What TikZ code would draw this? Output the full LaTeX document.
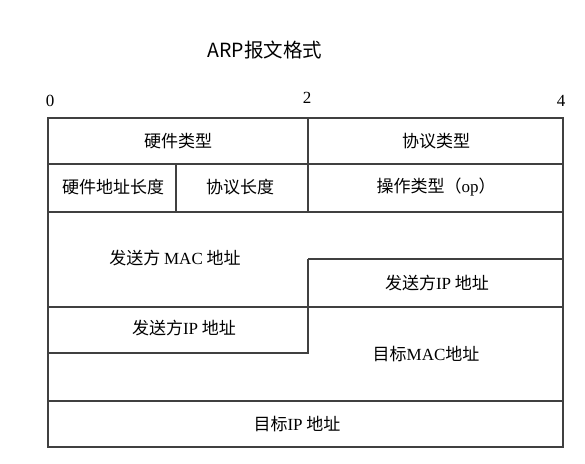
\documentclass[tikz,border=0pt]{standalone}
\usepackage{fontspec}
\setmainfont{Liberation Serif}
\newfontfamily\cjk{Noto Sans CJK SC}
\begin{document}
\begin{tikzpicture}[x=1pt,y=-1pt,
  grid/.style={draw=black!75,line width=1.1pt},
  cell/.style={font=\fontsize{17}{19}\selectfont\cjk, inner sep=0pt, anchor=center},
  num/.style={font=\fontsize{17}{19}\selectfont, inner sep=0pt, anchor=center}]
\useasboundingbox (0,0) rectangle (585,463);
% title
\node[font=\fontsize{19.5}{21}\selectfont\cjk, inner sep=0pt] (title) at (265,50) {ARP报文格式};
% scale
\node[num] (n0) at (50,101) {0};
\node[num] (n2) at (307,98) {2};
\node[num] (n4) at (561,101) {4};
% frame and lines
\draw[grid] (48,118) rectangle (563,447);
\draw[grid] (48,164) -- (563,164);
\draw[grid] (48,212) -- (563,212);
\draw[grid] (308,118) -- (308,212);
\draw[grid] (176,164) -- (176,212);
\draw[grid] (308,259) -- (563,259);
\draw[grid] (48,307) -- (563,307);
\draw[grid] (48,353) -- (308,353) -- (308,259);
\draw[grid] (48,401) -- (563,401);
% texts
\node[cell] (hwtype) at (178,141) {硬件类型};
\node[cell] (prtype) at (436,141) {协议类型};
\node[cell] (hwlen) at (113,187) {硬件地址长度};
\node[cell] (prlen) at (240,187) {协议长度};
\node[cell] (op) at (436,187) {操作类型（{\rmfamily op}）};
\node[cell] (smac) at (175,258) {发送方 {\rmfamily MAC} 地址};
\node[cell] (sip1) at (437,283) {发送方{\rmfamily IP} 地址};
\node[cell] (sip2) at (184,328) {发送方{\rmfamily IP} 地址};
\node[cell] (tmac) at (426,354) {目标{\rmfamily MAC}地址};
\node[cell] (tip) at (297,424) {目标{\rmfamily IP} 地址};
\end{tikzpicture}
\end{document}
